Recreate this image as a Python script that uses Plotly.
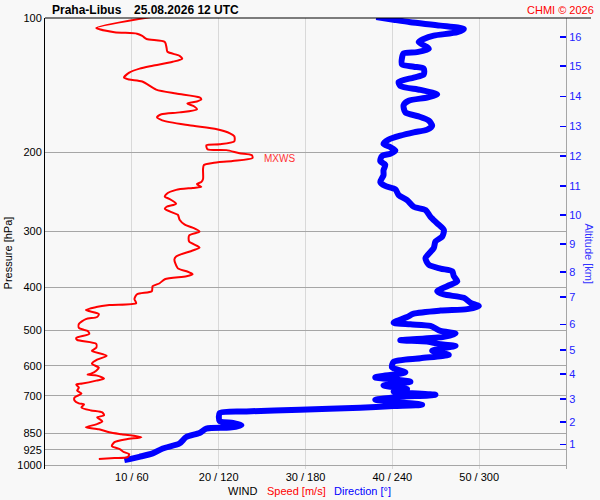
import numpy as np
import plotly.graph_objects as go

# ---------------- data ----------------
speed_hpa = [99.5, 105.3, 107.6, 108.4, 109.7, 111.4, 113.1, 116.6, 119.0, 121.5,
             123.3, 125.3, 127.9, 129.8, 132.5, 135.9, 137.3, 138.7, 144.6, 147.6,
             150.6, 152.1, 153.7, 155.3, 157.7, 160.1, 162.6, 164.2, 166.8, 169.4,
             173.8, 177.4, 181.1, 183.9, 188.7, 191.6, 192.5, 196.5, 197.5, 200.6,
             202.6, 205.7, 208.9, 211.0, 213.2, 217.6, 229.1, 232.7, 235.1, 237.5,
             238.7, 240.0, 242.4, 247.5, 251.2, 253.8, 260.4, 264.4, 267.1, 272.6,
             275.5, 282.6, 289.9, 294.4, 300.6, 306.6, 316.2, 326.1, 331.2, 341.5,
             346.9, 363.1, 368.6, 374.3, 378.2, 384.0, 392.1, 398.1, 408.5, 414.8,
             425.4, 434.3, 438.8, 443.3, 450.2, 459.4, 466.6, 471.5, 483.5, 493.5,
             498.5, 501.1, 508.9, 519.5, 524.9, 535.7, 546.8, 555.2, 569.6, 581.4,
             593.4, 605.7, 615.1, 624.7, 627.9, 631.0, 640.8, 647.4, 657.4, 660.7,
             670.9, 681.4, 691.8, 706.1, 717.0, 728.1, 731.9, 743.2, 754.8, 762.5,
             774.3, 782.2, 798.4, 810.8, 823.3, 831.8, 844.7, 853.4, 866.4, 875.3,
             888.8, 907.3, 921.4, 935.8, 945.5, 960.0, 965.0, 970.0]
speed_ms = [12.2, 5.9, 8.0, 10.6, 11.2, 11.7, 13.8, 14.0, 14.1, 15.5,
            15.8, 14.7, 12.4, 10.9, 9.7, 9.1, 9.7, 11.2, 12.8, 15.1,
            17.8, 18.0, 17.5, 16.4, 17.2, 17.5, 15.5, 13.4, 12.9, 13.5,
            16.6, 19.8, 21.3, 21.8, 21.8, 20.1, 18.6, 18.7, 20.9, 22.4,
            23.8, 23.9, 21.6, 19.3, 18.3, 18.2, 18.2, 18.0, 17.5, 17.8,
            18.0, 17.0, 15.1, 14.0, 13.8, 14.3, 15.1, 14.0, 13.8, 14.7,
            15.3, 15.5, 16.1, 17.0, 17.8, 16.6, 16.6, 17.8, 17.0, 15.1,
            14.9, 15.3, 16.3, 17.0, 16.3, 13.8, 13.2, 12.4, 12.3, 10.6,
            10.3, 10.5, 7.4, 5.9, 4.7, 6.2, 6.0, 4.7, 3.9, 3.9,
            4.5, 4.9, 5.1, 3.6, 3.7, 5.9, 5.9, 5.4, 7.1, 6.0,
            5.4, 6.2, 5.9, 5.3, 4.9, 6.0, 6.8, 5.9, 4.3, 3.6,
            3.9, 3.7, 4.2, 3.4, 3.4, 3.9, 4.5, 4.2, 5.3, 6.6,
            6.8, 6.0, 6.6, 5.9, 4.7, 6.2, 7.4, 8.8, 11.1, 9.4,
            8.0, 7.7, 8.6, 9.1, 9.7, 9.5, 8.0, 6.2]

dir_hpa = [99.5, 100.9, 102.2, 104.0, 105.8, 107.6, 109.5, 111.4, 113.2, 115.6,
           117.2, 119.2, 120.0, 122.7, 127.0, 128.5, 129.8, 133.7, 135.9, 139.0,
           141.9, 144.8, 148.1, 150.6, 153.1, 156.6, 162.6, 166.0, 169.7, 174.2,
           177.7, 180.2, 183.3, 187.1, 191.3, 194.5, 197.9, 201.2, 203.6, 209.2,
           212.9, 219.1, 224.8, 232.7, 237.5, 241.6, 249.0, 255.4, 264.4, 268.9,
           278.3, 288.0, 298.0, 308.2, 316.2, 327.3, 344.4, 356.4, 363.6, 368.6,
           378.2, 388.1, 398.1, 408.5, 415.4, 422.6, 433.6, 441.0, 447.9, 451.4,
           458.7, 466.6, 480.5, 484.5, 488.5, 501.1, 508.1, 516.8, 525.7, 529.5,
           536.8, 541.2, 547.6, 555.2, 566.7, 576.9, 587.4, 604.8, 620.8, 636.5,
           651.0, 664.1, 675.5, 684.9, 696.4, 704.8, 714.4, 732.9, 738.1, 744.2,
           751.9, 758.6, 765.1, 797.2, 805.5, 814.9, 824.6, 828.9, 847.9, 865.6,
           895.0, 918.1, 942.0, 958.5, 974.9]
dir_deg = [228.9, 240.9, 252.5, 273.3, 289.4, 284.9, 268.6, 261.7, 258.2, 262.9,
           265.2, 257.1, 247.8, 246.7, 246.7, 254.8, 261.7, 261.7, 254.8, 244.4,
           245.5, 259.4, 271.0, 264.1, 251.3, 247.8, 249.0, 258.2, 265.2, 267.5,
           264.1, 254.8, 245.5, 237.4, 233.9, 238.6, 242.1, 238.6, 232.8, 231.7,
           235.1, 233.9, 233.9, 231.7, 235.1, 242.1, 244.4, 250.2, 254.8, 262.9,
           266.3, 271.0, 275.6, 274.5, 269.8, 268.6, 262.9, 265.2, 273.3, 281.4,
           282.5, 284.9, 277.9, 271.0, 275.6, 289.4, 294.1, 299.8, 291.8, 273.3,
           254.8, 250.2, 240.9, 252.5, 266.3, 273.3, 283.7, 275.6, 245.5, 264.1,
           273.3, 283.7, 275.6, 267.5, 279.0, 259.4, 240.9, 239.8, 249.0, 228.2,
           252.5, 233.9, 250.2, 240.9, 269.8, 243.2, 228.2, 260.6, 240.9, 217.8,
           176.2, 139.2, 120.7, 120.7, 129.9, 135.7, 127.6, 111.5, 106.8, 97.6,
           92.9, 81.4, 74.4, 65.2, 54.8]

pressure_ticks = [100, 200, 300, 400, 500, 600, 700, 850, 925, 1000]
speed_ticks = [10, 20, 30, 40, 50]
dir_ticks = [60, 120, 180, 240, 300]
altitude_km = [1, 2, 3, 4, 5, 6, 7, 8, 9, 10, 11, 12, 13, 14, 15, 16]
altitude_hpa = [899.4, 801.3, 710.8, 625.5, 552.3, 484.3, 421.1, 370.0, 320.6,
                275.8, 237.8, 203.7, 174.7, 149.8, 128.0, 110.2]

# ---------------- layout helpers ----------------
W, H = 600, 500
L, R, T, B = 45, 34, 15, 31
PW, PH = W - L - R, H - T - B


def px(x):
    return (x - L) / PW


def py(y):
    return (H - B - y) / PH


FONT = "Liberation Sans, Arial, sans-serif"
BLUE = "#0000ff"
RED = "#ff0000"
BG = "#f8f8f8"

y_bottom = 2 + PH / 450.0   # log10 pressure at the bottom edge

fig = go.Figure()

fig.add_trace(go.Scatter(
    x=dir_deg, y=dir_hpa, xaxis="x", yaxis="y", mode="lines",
    line=dict(color=BLUE, width=6, shape="spline", smoothing=0.7),
    hoverinfo="skip", showlegend=False))

fig.add_trace(go.Scatter(
    x=speed_ms, y=speed_hpa, xaxis="x2", yaxis="y", mode="lines",
    line=dict(color=RED, width=2, shape="spline", smoothing=0.7),
    hoverinfo="skip", showlegend=False))

# invisible trace to activate altitude axis
fig.add_trace(go.Scatter(x=[None], y=[None], xaxis="x", yaxis="y2",
                         showlegend=False, hoverinfo="skip"))

imax = int(np.argmax(speed_ms))
p_max = speed_hpa[imax]
s_max = speed_ms[imax]

fig.update_layout(
    width=W, height=H,
    margin=dict(l=L, r=R, t=T, b=B, pad=0),
    paper_bgcolor=BG, plot_bgcolor=BG,
    font=dict(family=FONT, size=11, color="black"),
    xaxis=dict(range=[0, 360], tickvals=dir_ticks,
               ticktext=[f"{s} / {d}" for s, d in zip(speed_ticks, dir_ticks)],
               showgrid=True, gridcolor="#d9d9d9", gridwidth=1,
               zeroline=False, showline=False, ticks="",
               tickfont=dict(size=11, color="black"), fixedrange=True),
    xaxis2=dict(range=[0, 60], overlaying="x", visible=False, fixedrange=True),
    yaxis=dict(type="log", range=[y_bottom, 2], tickvals=pressure_ticks,
               ticktext=[str(p) for p in pressure_ticks],
               showgrid=True, gridcolor="#a6a6a6", gridwidth=1,
               zeroline=False, showline=True, linecolor="black", linewidth=1,
               ticks="", tickfont=dict(size=11, color="black"), fixedrange=True),
    yaxis2=dict(type="log", range=[y_bottom, 2], overlaying="y", side="right",
                anchor="x", tickvals=altitude_hpa,
                ticktext=[str(a) for a in altitude_km],
                showgrid=False, zeroline=False, showline=True,
                linecolor="#a6a6a6", linewidth=1,
                ticks="inside", ticklen=6, tickcolor=BLUE, tickwidth=1.5,
                tickfont=dict(size=11, color="#2222ff"), fixedrange=True),
)

shapes = [
    # top black border
    dict(type="line", xref="paper", yref="paper", x0=0, x1=px(591), y0=1, y1=1,
         line=dict(color="black", width=1)),
    # MXWS markers
    dict(type="line", xref="paper", yref="y", x0=px(47), x1=px(56),
         y0=np.log10(p_max), y1=np.log10(p_max), line=dict(color=RED, width=1.5)),
    dict(type="line", xref="paper", yref="y", x0=px(555), x1=px(567),
         y0=np.log10(p_max), y1=np.log10(p_max), line=dict(color=RED, width=1.5)),
]
fig.update_layout(shapes=shapes)


def ann(text, x, y, color="black", size=11, xanchor="left", bold=False, angle=0):
    return dict(text=f"<b>{text}</b>" if bold else text, xref="paper", yref="paper",
                x=px(x), y=py(y), xanchor=xanchor, yanchor="middle",
                showarrow=False, textangle=angle,
                font=dict(family=FONT, size=size, color=color))


annotations = [
    ann("Praha-Libus", 50, 7, bold=True, size=12),
    ann("25.08.2026 12 UTC", 131.5, 7, bold=True, size=12),
    ann("CHMI © 2026", 596, 7, color=RED, size=11, xanchor="right"),
    ann("Pressure [hPa]", 8, 252, size=11, xanchor="center", angle=-90),
    ann("Altitude [km]", 589, 252, color="#3333ff", size=11, xanchor="center", angle=90),
    ann("WIND", 225.5, 491, size=11),
    ann("Speed [m/s]", 265, 491, color=RED, size=11),
    ann("Direction [°]", 332, 491, color=BLUE, size=11),
    dict(text="MXWS", xref="x2", yref="y", x=s_max, y=np.log10(p_max),
         xanchor="left", yanchor="middle", xshift=9, showarrow=False,
         font=dict(family=FONT, size=10, color="#ff3333")),
]
fig.update_layout(annotations=annotations)

fig.write_html("out.html", config={"displayModeBar": False, "staticPlot": True})

# remove default page margin so the figure sits at the window origin
with open("out.html", "r", encoding="utf-8") as f:
    html = f.read()
html = html.replace("<head>", "<head><style>html,body{margin:0;padding:0;overflow:hidden;}</style>", 1)
with open("out.html", "w", encoding="utf-8") as f:
    f.write(html)
